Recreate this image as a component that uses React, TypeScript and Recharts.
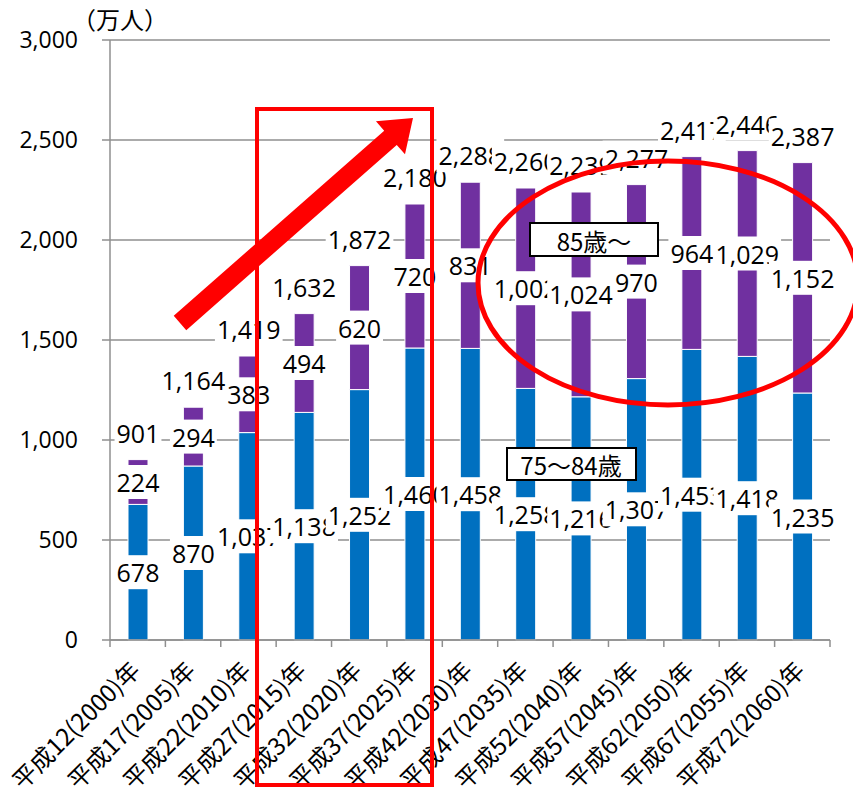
import React from "react";
import { BarChart, Bar, XAxis, YAxis, CartesianGrid, LabelList } from "recharts";

// 高齢者人口の推移（万人）
const years = [
	"平成12(2000)年",
	"平成17(2005)年",
	"平成22(2010)年",
	"平成27(2015)年",
	"平成32(2020)年",
	"平成37(2025)年",
	"平成42(2030)年",
	"平成47(2035)年",
	"平成52(2040)年",
	"平成57(2045)年",
	"平成62(2050)年",
	"平成67(2055)年",
	"平成72(2060)年",
];
const age75to84 = [678, 870, 1037, 1138, 1252, 1460, 1458, 1258, 1216, 1307, 1453, 1418, 1235];
const age85plus = [224, 294, 383, 494, 620, 720, 831, 1002, 1024, 970, 964, 1029, 1152];
const totals = [901, 1164, 1419, 1632, 1872, 2180, 2288, 2260, 2239, 2277, 2417, 2446, 2387];
const yTicks = [0, 500, 1000, 1500, 2000, 2500, 3000];

const data = years.map((year, i) => ({
	year,
	young: age75to84[i],
	old: age85plus[i],
	total: totals[i],
}));

const NUM_FONT = "'Open Sans', 'Noto Sans CJK JP', sans-serif";
const JP_FONT = "'Noto Sans CJK JP', 'Noto Sans', sans-serif";
const GRID = "#8f8f8f";
const fmt = (v: number) => v.toLocaleString("en-US");

const textWidth = (s: string, fs: number) =>
	s.split("").reduce((w, c) => w + (c === "," ? 0.26 : 0.572) * fs, 0);

// white box behind each value, like the Excel labels
const BoxedLabel = ({ cx, cy, text }: { cx: number; cy: number; text: string }) => {
	const fs = 25;
	const w = textWidth(text, fs) + 4;
	const h = 34;
	return (
		<g>
			<rect x={cx - w / 2} y={cy - h / 2} width={w} height={h} fill="#fff" />
			<text
				x={cx}
				y={cy}
				textAnchor="middle"
				dominantBaseline="central"
				fontSize={fs}
				fontFamily={NUM_FONT}
				fill="#000"
			>
				{text}
			</text>
		</g>
	);
};

const segmentLabel = (props: any) => {
	const { x, y, width, height, value } = props;
	return <BoxedLabel cx={x + width / 2} cy={y + height / 2} text={fmt(value)} />;
};

const totalLabel = (props: any) => {
	const { x, y, width, value } = props;
	return <BoxedLabel cx={x + width / 2} cy={y - 27} text={fmt(value)} />;
};

const BAND = 720 / years.length;

const XTick = (props: any) => {
	const { x, y, payload, index } = props;
	const tx = x + 4;
	const ty = y + 32;
	return (
		<g>
			<line x1={x - BAND / 2} x2={x - BAND / 2} y1={y} y2={y + 7} stroke={GRID} strokeWidth={1.5} />
			{index === years.length - 1 && (
				<line x1={x + BAND / 2} x2={x + BAND / 2} y1={y} y2={y + 7} stroke={GRID} strokeWidth={1.5} />
			)}
			<text
				x={tx}
				y={ty}
				transform={`rotate(-45, ${tx}, ${ty})`}
				textAnchor="end"
				fontSize={24}
				fontFamily={JP_FONT}
				fill="#000"
			>
				{payload.value}
			</text>
		</g>
	);
};

const Overlay = () => {
	// arrow geometry
	const T = [180, 323];
	const tip = [413, 118];
	const u = [0.751, -0.66];
	const p = [0.66, 0.751];
	const hw = 9.5;
	const headLen = 30;
	const headW = 22;
	const B = [tip[0] - u[0] * headLen, tip[1] - u[1] * headLen];
	const pt = (c: number[], k: number) => `${c[0] + p[0] * k},${c[1] + p[1] * k}`;
	const arrow = [
		pt(T, hw),
		pt(B, hw),
		pt(B, headW),
		`${tip[0]},${tip[1]}`,
		pt(B, -headW),
		pt(B, -hw),
		pt(T, -hw),
	].join(" ");

	return (
		<svg
			width={853}
			height={799}
			style={{ position: "absolute", left: 0, top: 0, pointerEvents: "none" }}
		>
			<rect x={257} y={109} width={175} height={676} fill="none" stroke="#ff0000" strokeWidth={4} />
			<polygon points={arrow} fill="#ff0000" />
			<ellipse cx={668} cy={283} rx={190} ry={122} fill="none" stroke="#ff0000" strokeWidth={5} />

			<rect x={530} y={223} width={128} height={33} fill="#fff" stroke="#000" strokeWidth={2} />
			<text x={594} y={240} textAnchor="middle" dominantBaseline="central" fontSize={24} fontFamily={JP_FONT}>
				85歳～
			</text>
			<rect x={507} y={448} width={129} height={32} fill="#fff" stroke="#000" strokeWidth={2} />
			<text x={571} y={464} textAnchor="middle" dominantBaseline="central" fontSize={24} fontFamily={JP_FONT}>
				75～84歳
			</text>
		</svg>
	);
};

export default function App() {
	return (
		<div style={{ position: "absolute", left: 0, top: 0, width: 853, height: 799, background: "#fff" }}>
			<div
				style={{
					position: "absolute",
					left: 72,
					top: 1,
					fontSize: 24,
					fontFamily: JP_FONT,
					color: "#000",
				}}
			>
				（万人）
			</div>
			<BarChart
				width={853}
				height={799}
				data={data}
				margin={{ top: 40, right: 23, left: 0, bottom: 0 }}
				barSize={20}
			>
				<CartesianGrid vertical={false} stroke={GRID} strokeWidth={1.5} />
				<XAxis
					dataKey="year"
					interval={0}
					height={159}
					tickSize={0}
					tickMargin={0}
					tickLine={false}
					axisLine={{ stroke: GRID, strokeWidth: 1.5 }}
					tick={<XTick />}
				/>
				<YAxis
					width={110}
					domain={[0, 3000]}
					ticks={yTicks}
					tickFormatter={fmt}
					tickSize={8}
					tickMargin={24}
					tickLine={{ stroke: GRID, strokeWidth: 1.5 }}
					axisLine={{ stroke: GRID, strokeWidth: 1.5 }}
					tick={{ fontSize: 23, fontFamily: NUM_FONT, fill: "#000" }}
				/>
				<Bar dataKey="young" stackId="a" fill="#0070c0" stroke="#fff" strokeWidth={1} isAnimationActive={false}>
					<LabelList dataKey="young" content={segmentLabel} />
				</Bar>
				<Bar dataKey="old" stackId="a" fill="#7030a0" stroke="#fff" strokeWidth={1} isAnimationActive={false}>
					<LabelList dataKey="old" content={segmentLabel} />
					<LabelList dataKey="total" content={totalLabel} />
				</Bar>
			</BarChart>
			<Overlay />
		</div>
	);
}
